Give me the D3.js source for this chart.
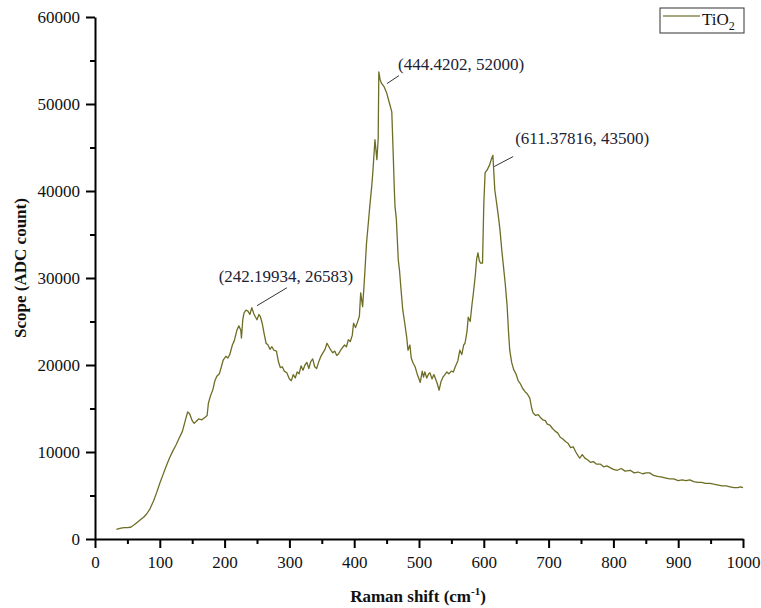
<!DOCTYPE html>
<html>
<head>
<meta charset="utf-8">
<script src="https://cdnjs.cloudflare.com/ajax/libs/d3/7.8.5/d3.min.js"></script>
<style>
  body { margin: 0; background: #fff; }
  svg { display: block; }
  text { font-family: "Liberation Serif", "Times New Roman", serif; }
</style>
</head>
<body>
<div id="chart"></div>
<script>
// Raman spectrum of TiO2
const shift = [33,40,45,50,55,60,65,70,75,80,85,90,95,100,105,110,115,120,125,130,135,140,143,146,150,153,156,160,165,170,173,175,178,182,185,188,192,195,198,202,205,208,212,215,219,222,225,226,228,230,233,236,239,242,245,247,250,253,255,258,261,264,267,270,273,276,280,283,286,289,292,296,300,303,306,309,312,315,318,321,324,327,330,333,336,339,342,345,348,351,355,358,361,364,367,370,373,376,379,382,385,388,391,394,397,399,402,405,408,410,413,416,419,422,424,427,429,432,435,437,438,440,442,446,450,454,458,460,462,463,465,468,470,472,475,478,481,483,486,488,491,494,497,500,502,505,507,509,512,515,517,520,523,525,528,531,534,537,540,543,546,550,553,556,560,563,566,569,571,574,576,579,582,584,587,589,591,593,595,598,600,602,605,609,611,614,617,620,623,625,628,630,633,636,638,640,643,646,650,653,656,660,664,667,671,674,676,680,684,687,691,695,698,702,706,710,714,718,722,726,730,734,738,742,746,748,752,756,760,765,769,774,780,785,790,795,800,806,812,818,826,832,838,845,851,856,862,868,875,881,887,893,900,906,912,918,924,930,936,942,949,955,962,968,974,980,986,992,996,1000];
const counts = [1100,1250,1300,1300,1350,1600,1900,2200,2500,2900,3500,4300,5300,6400,7400,8400,9300,10100,10800,11600,12400,13800,14600,14400,13600,13300,13500,13800,13700,14000,14200,15600,16400,17200,18200,18700,19000,19800,20600,21000,20800,21200,22300,22800,24000,24500,24000,23100,25200,26000,26300,26200,25800,26583,25900,25600,25200,25800,25600,24800,23600,22500,22300,21800,22100,21700,21600,20400,19700,19800,19300,19100,18400,18200,18900,18500,19200,19000,19900,19400,20000,20300,19600,20400,20700,19800,19600,20300,20900,21300,21800,22500,22100,21700,21400,21600,21100,21300,21700,22000,22300,22100,22900,22700,23400,24800,24300,24900,25600,28300,26700,30100,34000,36500,38200,40500,42400,45900,43600,46000,53700,52800,52400,52000,51300,50200,49100,44700,40000,38200,36800,32100,30800,28900,26300,24800,23200,21700,22300,20800,20200,19800,19000,18400,18000,19300,18600,19200,18500,19000,19100,18400,18900,18500,17900,17100,18100,18600,18900,19200,19000,19300,19200,19800,20500,21700,21200,22300,22500,23800,25500,25000,27100,28300,30400,32200,32900,32000,31700,31700,38500,42100,42400,43000,43500,44100,40100,38500,36800,35500,33000,31600,29400,26800,24000,21700,20300,19500,18900,18200,17900,17300,16900,16700,16200,15000,14500,14200,14300,14000,13700,13600,13200,13100,12700,12400,12200,11700,11500,11200,11000,10500,10600,10000,9500,9300,9700,9300,9100,8800,8900,8600,8600,8300,8400,8200,8000,7900,8100,7800,7900,7600,7700,7500,7600,7600,7300,7200,7100,7000,6900,6900,6700,6800,6700,6800,6600,6500,6500,6400,6400,6300,6200,6100,6100,6000,5900,5900,6000,5900];

const xTicks = [0,100,200,300,400,500,600,700,800,900,1000];
const yTicks = [0,10000,20000,30000,40000,50000,60000];

const peakX = [242.19934, 444.4202, 611.37816];
const peakY = [26583, 52000, 43500];
const peakLabels = ["(242.19934, 26583)", "(444.4202, 52000)", "(611.37816, 43500)"];

const seriesName = "TiO";
const lineColor = "#6e6d25";

const W = 761, H = 608;
const svg = d3.select("#chart").append("svg")
  .attr("width", W)
  .attr("height", H);

const x = d3.scaleLinear().domain([0, 1000]).range([95, 743]);
const y = d3.scaleLinear().domain([0, 60000]).range([539, 17]);

// spectrum line
const data = shift.map((s, i) => ({ s, c: counts[i] }));
const line = d3.line()
  .x(d => x(d.s))
  .y(d => y(d.c));

svg.append("path")
  .attr("d", line(data))
  .attr("fill", "none")
  .attr("stroke", lineColor)
  .attr("stroke-width", 1.3)
  .attr("stroke-linejoin", "round");

// minor ticks
svg.append("g")
  .attr("transform", "translate(0,539)")
  .call(d3.axisBottom(x).tickValues(d3.range(50, 1000, 100)).tickSize(5).tickFormat(""))
  .call(g => g.select(".domain").remove())
  .selectAll("line").attr("stroke", "#000").attr("stroke-width", 2);
svg.append("g")
  .attr("transform", "translate(95,0)")
  .call(d3.axisLeft(y).tickValues(d3.range(5000, 60000, 10000)).tickSize(5).tickFormat(""))
  .call(g => g.select(".domain").remove())
  .selectAll("line").attr("stroke", "#000").attr("stroke-width", 2);

// major axes
const xAxis = svg.append("g")
  .attr("transform", "translate(0,539)")
  .call(d3.axisBottom(x).tickValues(xTicks).tickFormat(d3.format("d"))
    .tickSize(9).tickSizeOuter(0).tickPadding(8));
const yAxis = svg.append("g")
  .attr("transform", "translate(95,0)")
  .call(d3.axisLeft(y).tickValues(yTicks).tickFormat(d3.format("d"))
    .tickSize(9).tickSizeOuter(0).tickPadding(6));

[xAxis, yAxis].forEach(g => {
  g.attr("font-family", null).attr("font-size", null);
  g.select(".domain").attr("stroke", "#000").attr("stroke-width", 2);
  g.selectAll(".tick line").attr("stroke", "#000").attr("stroke-width", 2);
  g.selectAll(".tick text")
    .attr("fill", "#111")
    .attr("font-family", "'Liberation Serif', serif")
    .attr("font-size", 17);
});

// axis titles
const xTitle = svg.append("text")
  .attr("x", 418)
  .attr("y", 602)
  .attr("text-anchor", "middle")
  .attr("font-weight", "bold")
  .attr("font-size", 17)
  .attr("fill", "#111");
xTitle.append("tspan").text("Raman shift (cm");
xTitle.append("tspan").attr("font-size", 11).attr("dy", -7).text("-1");
xTitle.append("tspan").attr("dy", 7).text(")");

svg.append("text")
  .attr("transform", "translate(26,268) rotate(-90)")
  .attr("text-anchor", "middle")
  .attr("font-weight", "bold")
  .attr("font-size", 17)
  .attr("fill", "#111")
  .text("Scope (ADC count)");

// peak annotations: leader start, leader end, text position (offsets from the peak)
const annLayout = [
  { l: [5, -2, 35, -20], t: [34, -26], anchor: "middle" },
  { l: [4, -3, 16, -11], t: [15, -17], anchor: "start" },
  { l: [3, 6, 22, -4], t: [24, -17], anchor: "start" }
];
peakX.forEach((px, i) => {
  const cx = x(px), cy = y(peakY[i]), a = annLayout[i];
  svg.append("line")
    .attr("x1", cx + a.l[0]).attr("y1", cy + a.l[1])
    .attr("x2", cx + a.l[2]).attr("y2", cy + a.l[3])
    .attr("stroke", "#333")
    .attr("stroke-width", 1);
  svg.append("text")
    .attr("x", cx + a.t[0])
    .attr("y", cy + a.t[1])
    .attr("text-anchor", a.anchor)
    .attr("font-size", 17)
    .attr("fill", "#1c2233")
    .text(peakLabels[i]);
});

// legend
const legend = svg.append("g").attr("transform", "translate(660,8)");
legend.append("rect")
  .attr("width", 84).attr("height", 25)
  .attr("fill", "#fff")
  .attr("stroke", "#333")
  .attr("stroke-width", 1);
legend.append("line")
  .attr("x1", 3).attr("x2", 40)
  .attr("y1", 8).attr("y2", 8)
  .attr("stroke", "#8a8a55")
  .attr("stroke-width", 1.3);
const legText = legend.append("text")
  .attr("x", 42).attr("y", 17)
  .attr("font-size", 17)
  .attr("fill", "#111");
legText.append("tspan").text(seriesName);
legText.append("tspan").attr("font-size", 12).attr("dy", 5).text("2");
</script>
</body>
</html>
